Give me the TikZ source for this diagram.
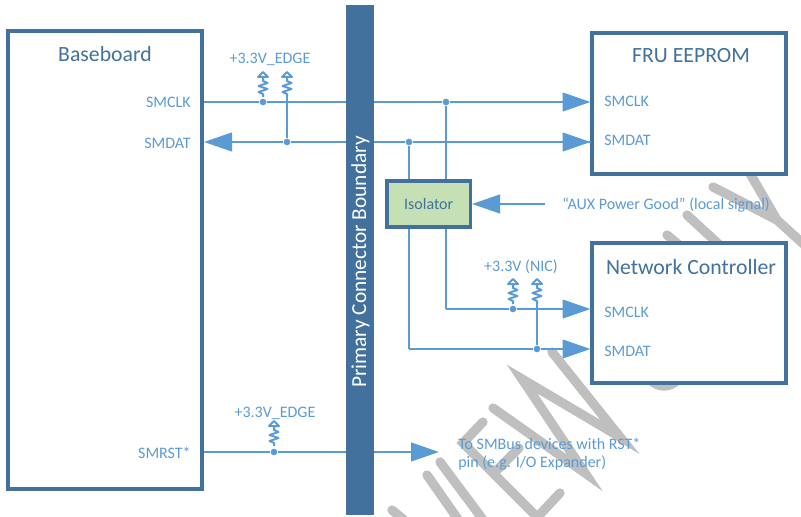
\documentclass[tikz,border=0pt]{standalone}
\usepackage{fontspec}
\setmainfont{Carlito}
\usetikzlibrary{arrows.meta}
\definecolor{dk}{HTML}{41719C}
\definecolor{lt}{HTML}{5B9BD5}
\definecolor{wm}{HTML}{BFBFBF}
\definecolor{grn}{HTML}{C5E0B4}
\tikzset{
  x=0.75pt,y=-0.75pt,
  mark stroke/.style={draw=wm,line width=7pt,line cap=round,line join=miter},
  board/.style={draw=dk,line width=3pt,fill=white,inner sep=0pt},
  wire/.style={draw=lt,line width=1.8pt},
  arrowwire/.style={wire,-{Triangle[length=21pt,width=14pt,color=lt]}},
  dot/.style={circle,fill=lt,inner sep=0pt,minimum size=5pt},
  pullup/.style={draw=lt,line width=1.5pt,line join=round},
  sig/.style={text=lt,font=\fontsize{12}{14}\selectfont,inner sep=0pt},
  rail/.style={text=lt,font=\fontsize{12}{13.5}\selectfont,inner sep=0pt},
  title/.style={text=dk,font=\fontsize{16.3}{18}\selectfont,inner sep=0pt},
}
% \respull{x}{y of top}: pull-up symbol
\newcommand{\respull}[2]{%
  \draw[pullup] (#1,#2) -- (#1+5,#2+5) -- (#1-5,#2+5) -- cycle
    (#1,#2+5) -- (#1,#2+9) -- (#1+4.5,#2+11) -- (#1-4.5,#2+14) -- (#1+4.5,#2+17) -- (#1-4.5,#2+20) -- (#1,#2+22) -- (#1,#2+25);
}
\begin{document}
\begin{tikzpicture}
\useasboundingbox (0,0) rectangle (801,517);
\clip (0,0) rectangle (801,517);
% watermark
\draw[mark stroke] (493,408) -- (585,473) -- (522,379) -- (620,437) -- (552,352);
\draw[mark stroke] (483,422) -- (463,443) -- (545,525);
\draw[mark stroke] (519,448) -- (497,470);
\draw[mark stroke] (560,493) -- (530,525);
\draw[mark stroke] (440,462) -- (487,525);
\draw[mark stroke] (427,475) -- (462,525);
\draw[mark stroke] (392,510) -- (410,525);
\draw[mark stroke] (713,187) -- (777,220) -- (810,250);
\draw[mark stroke] (745,165) -- (777,220);
\draw[mark stroke] (687,215) -- (725,250);
\draw[mark stroke] (667,235) -- (685,250);
\draw[mark stroke] (664,368) circle[radius=13.5pt];
% boxes
\node[board,minimum width=145.5pt,minimum height=343.5pt] (bb) at (105,260) {};
\node[board,minimum width=145.5pt,minimum height=105.75pt] (fru) at (689,103.5) {};
\node[board,minimum width=145.5pt,minimum height=105pt] (nc) at (689,313) {};
% named points
\coordinate (bclk) at (204,102);
\coordinate (bdat) at (204,142);
\coordinate (brst) at (204,452);
\coordinate (fclk) at (590.5,102);
\coordinate (fdat) at (590.5,142);
\coordinate (nclk) at (590.5,309);
\coordinate (ndat) at (590.5,349);
\coordinate (rsttip) at (439,452);
\coordinate (auxstart) at (545,204);
\node[dot] (j1) at (263,102) {};
\node[dot] (j2) at (287,142) {};
\node[dot] (j3) at (446,102) {};
\node[dot] (j4) at (409,142) {};
\node[dot] (j5) at (513,309) {};
\node[dot] (j6) at (537,349) {};
\node[dot] (j7) at (274,452) {};
\coordinate (c1) at (409,349);
\coordinate (c2) at (446,309);
% connectors
\draw[arrowwire] (bclk) -- (j1) -- (j3) -- (fclk);
\draw[arrowwire] (fdat) -- (j4) -- (j2) -- (bdat) ;
\draw[arrowwire] (j4) -- (fdat);
\draw[wire] (j3) -- (c2);
\draw[wire] (j4) -- (c1);
\draw[arrowwire] (c2) -- (j5) -- (nclk);
\draw[arrowwire] (c1) -- (j6) -- (ndat);
\draw[arrowwire] (brst) -- (j7) -- (rsttip);
\draw[wire] (j2) -- (287,97);
\draw[wire] (j6) -- (537,303);
% pull-ups
\respull{263}{72}
\respull{287}{72}
\respull{513}{279}
\respull{537}{279}
\respull{274}{421}
% bar
\node[fill=dk,minimum width=21pt,minimum height=382.5pt,inner sep=0pt] (bar) at (360,260) {};
\node[rotate=90,text=white,font=\fontsize{16}{18}\selectfont,inner sep=0pt] (bartext) at (360.5,262) {Primary Connector Boundary};
% isolator
\node[draw=dk,line width=2.5pt,fill=grn,minimum width=62.5pt,minimum height=34.5pt,inner sep=0pt,
  text=dk,font=\fontsize{12}{14}\selectfont] (iso) at (428.7,204) {Isolator};
\draw[arrowwire] (auxstart) -- (iso.east);
% labels
\node[title] (t1) at (105,54) {Baseboard};
\node[title] (t2) at (691,56) {FRU EEPROM};
\node[title] (t3) at (691,267) {Network Controller};
\node[sig,anchor=east] (l1) at (191,102) {SMCLK};
\node[sig,anchor=east] (l2) at (191,143) {SMDAT};
\node[sig,anchor=east] (l3) at (191,453) {SMRST*};
\node[sig,anchor=west] (l4) at (604,101) {SMCLK};
\node[sig,anchor=west] (l5) at (604,140) {SMDAT};
\node[sig,anchor=west] (l6) at (604,312) {SMCLK};
\node[sig,anchor=west] (l7) at (604,351) {SMDAT};
\node[rail] (r1) at (270,59) {+3.3V\_EDGE};
\node[rail] (r2) at (275,413) {+3.3V\_EDGE};
\node[rail] (r3) at (521,267) {+3.3V (NIC)};
\node[rail,anchor=west] (aux) at (562,205) {“AUX Power Good” (local signal)};
\node[rail,anchor=west,align=left] (to) at (458,454) {To SMBus devices with RST*\\pin (e.g. I/O Expander)};
\end{tikzpicture}
\end{document}
